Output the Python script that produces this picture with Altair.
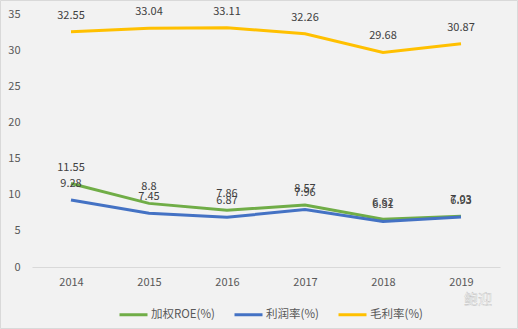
import altair as alt
import pandas as pd

years = ["2014", "2015", "2016", "2017", "2018", "2019"]
roe = [11.55, 8.8, 7.86, 8.57, 6.62, 7.03]
profit = [9.28, 7.45, 6.87, 7.96, 6.31, 6.93]
gross = [32.55, 33.04, 33.11, 32.26, 29.68, 30.87]
series_names = ["加权ROE(%)", "利润率(%)", "毛利率(%)"]
series_colors = ["#70AD47", "#4472C4", "#FFC000"]
y_ticks = [0, 5, 10, 15, 20, 25, 30, 35]

rows = []
for name, vals in zip(series_names, [roe, profit, gross]):
    for y, v in zip(years, vals):
        rows.append({"year": y, "value": v, "series": name, "label": f"{v:g}"})
df = pd.DataFrame(rows)

FONT = "Noto Sans CJK SC"
W, H = 468, 253

x = alt.X("year:N", scale=alt.Scale(type="point", padding=0.5), title=None,
          axis=alt.Axis(labelAngle=0, ticks=False, domainColor="#d9d9d9",
                        labelColor="#595959", labelFontSize=11, labelPadding=9,
                        labelFont=FONT))
y = alt.Y("value:Q", scale=alt.Scale(domain=[0, 35], nice=False), title=None,
          axis=alt.Axis(values=y_ticks, grid=False,
                        domain=False, ticks=False, labelColor="#595959",
                        labelFontSize=11, labelPadding=12, labelFont=FONT,
                        labelOverlap=False, labelFlush=False))
color = alt.Color("series:N",
                  scale=alt.Scale(domain=series_names, range=series_colors),
                  legend=alt.Legend(title=None, orient="none", direction="horizontal",
                                    legendX=86, legendY=285, symbolType="stroke",
                                    symbolSize=784, symbolStrokeWidth=3,
                                    labelFontSize=11.5, labelColor="#595959",
                                    labelFont=FONT, columnPadding=13, labelOffset=2))

base = alt.Chart(df)
lines = base.mark_line(strokeWidth=3).encode(x=x, y=y, color=color)
labels = base.mark_text(dy=-16, fontSize=11, color="#404040", font=FONT).encode(
    x=x, y=y, text="label:N")

border = alt.Chart(pd.DataFrame({"a": [0]})).mark_rect(
    fill=None, stroke="#d9d9d9", strokeWidth=1).encode(
    x=alt.value(-31.5), x2=alt.value(W + 17.5), y=alt.value(-13.5), y2=alt.value(H + 61.5))

mark_wm = alt.Chart(pd.DataFrame({"t": ["鲍迎"]})).mark_text(
    fontSize=14, color="#ffffff", stroke="#b0b0b0", strokeWidth=0.3, font=FONT,
    align="left").encode(x=alt.value(W - 36), y=alt.value(H + 33), text="t:N")

chart = alt.layer(lines, labels, border, mark_wm).properties(
    width=W, height=H, background="#f2f2f2",
    padding={"left": 32, "top": 14, "right": 18, "bottom": 62},
    autosize=alt.AutoSizeParams(type="none")
).configure_view(stroke=None)

chart.save("out.html", embed_options={"renderer": "svg", "actions": False})
